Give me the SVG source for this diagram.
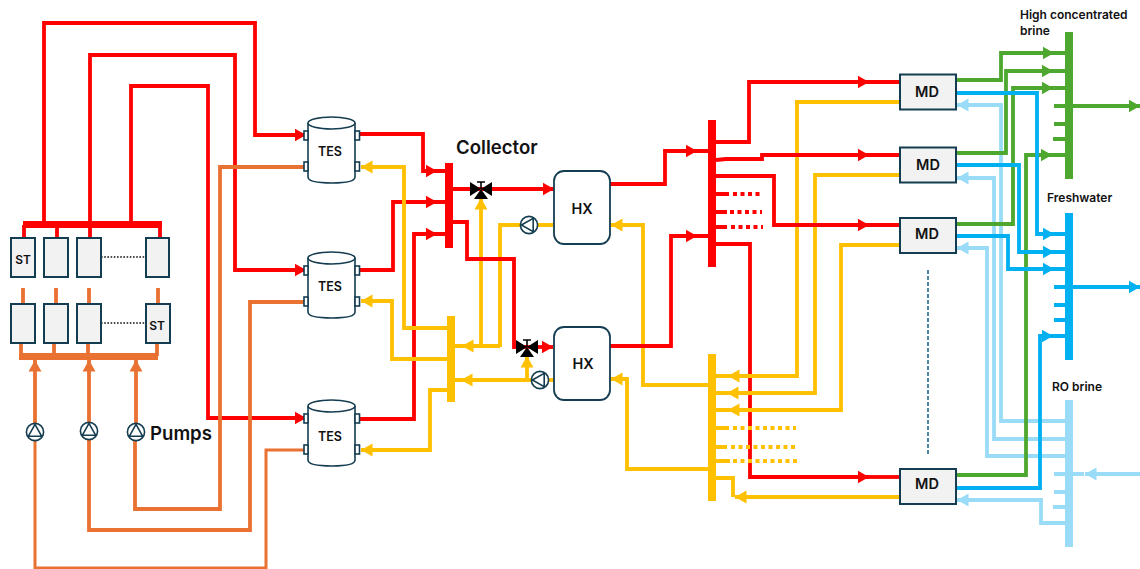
<svg xmlns="http://www.w3.org/2000/svg" width="1140" height="569" viewBox="0 0 1140 569">
<style>
text{font-family:Inter,"Liberation Sans",sans-serif;font-weight:600;fill:#111}
.l{fill:none;stroke-width:3.800;stroke-linejoin:miter}
.r{stroke:#f00}.o{stroke:#e97132}.y{stroke:#ffc000}.g{stroke:#4ea72e}.b{stroke:#00b0f0}.c{stroke:#9adcf7}
.ar{marker-end:url(#ar)}.ao{marker-end:url(#ao)}.ay{marker-end:url(#ay)}.ag{marker-end:url(#ag)}.ab{marker-end:url(#ab)}.ac{marker-end:url(#ac)}
.d{stroke-dasharray:4 3.500}
.n{fill:#f2f2f2;stroke:#153d51;stroke-width:2}
.w{fill:#fff;stroke:#153d51;stroke-width:1.600}
.t{font-size:14.500px}
.s{font-size:12px}
.h{font-size:18.600px}
</style>
<defs>
<marker id="ar" markerUnits="userSpaceOnUse" markerWidth="12" markerHeight="14" refX="11.500" refY="7" orient="auto"><path d="M0 0.500L11.500 7L0 13.500Z" fill="#f00"/></marker>
<marker id="ao" markerUnits="userSpaceOnUse" markerWidth="12" markerHeight="14" refX="11.500" refY="7" orient="auto"><path d="M0 0.500L11.500 7L0 13.500Z" fill="#e97132"/></marker>
<marker id="ay" markerUnits="userSpaceOnUse" markerWidth="12" markerHeight="14" refX="11.500" refY="7" orient="auto"><path d="M0 0.500L11.500 7L0 13.500Z" fill="#ffc000"/></marker>
<marker id="ag" markerUnits="userSpaceOnUse" markerWidth="12" markerHeight="14" refX="11.500" refY="7" orient="auto"><path d="M0 0.500L11.500 7L0 13.500Z" fill="#4ea72e"/></marker>
<marker id="ab" markerUnits="userSpaceOnUse" markerWidth="12" markerHeight="14" refX="11.500" refY="7" orient="auto"><path d="M0 0.500L11.500 7L0 13.500Z" fill="#00b0f0"/></marker>
<marker id="ac" markerUnits="userSpaceOnUse" markerWidth="12" markerHeight="14" refX="11.500" refY="7" orient="auto"><path d="M0 0.500L11.500 7L0 13.500Z" fill="#9adcf7"/></marker>
<g id="valve"><path d="M-11 -7L11 7V-7L-11 7Z" fill="#000"/><path d="M0 0L7 10H-7Z" fill="#000"/><path d="M0 0V-7M-4 -7H4" stroke="#000" stroke-width="1.600" fill="none"/></g>
<g id="pu"><circle r="8.600" class="w"/><path d="M0 -7.600L6.600 4.200H-6.600Z" class="w"/></g>
<g id="pl"><circle r="8.600" class="w"/><path d="M-7.600 0L4.200 -6.600V6.600Z" class="w"/></g>
<g id="tank"><path d="M0 6V60Q0 66 24 66Q47 66 47 60V6" fill="#fff" stroke="#153d51" stroke-width="1.600"/><ellipse cx="23.500" cy="6" rx="23.500" ry="6" fill="#fff" stroke="#153d51" stroke-width="1.600"/></g>
</defs>

<g id="connectors">
<path class="l c ac" d="M1065 421H1001V105H957"/>
<path class="l c ac" d="M1065 439H994V178H957"/>
<path class="l c ac" d="M1065 456H987V248H957"/>
<path class="l c ac" d="M1065 523H1041V500H957"/>
<path class="l c" d="M1054 474H1084M1054 492H1065M1053 507H1065"/>
<path class="l c ac" d="M1140 474H1085"/>
<rect x="1065" y="400" width="8" height="147" fill="#9adcf7"/>
<path class="l g ag" d="M956 80H1001V53H1054"/>
<path class="l g ag" d="M956 153H1006V71H1053"/>
<path class="l g ag" d="M956 224H1013V88H1053"/>
<path class="l g ag" d="M956 475H1026V155H1052"/>
<path class="l g" d="M1054 53H1065M1053 71H1065M1053 88H1065M1052 155H1065M1054 106H1065M1054 124H1065M1053 139H1065"/>
<path class="l g ag" d="M1073 106H1140"/>
<rect x="1065" y="32" width="8" height="147" fill="#4ea72e"/>
<path class="l b ab" d="M956 93H1037V234H1054"/>
<path class="l b ab" d="M956 165H1019V252H1054"/>
<path class="l b ab" d="M956 236H1008V269H1054"/>
<path class="l b ab" d="M956 488H1040V336H1053"/>
<path class="l b" d="M1054 234H1065M1054 252H1065M1054 269H1065M1053 336H1065M1054 287H1065M1054 305H1065M1054 320H1065"/>
<path class="l b ab" d="M1073 287H1140"/>
<rect x="1065" y="213" width="8" height="147" fill="#00b0f0"/>
<path class="l r ar" d="M716 244H750V477H869"/>
<path class="l r" d="M869 477H900"/>
<path class="l r ar" d="M360 419H414V234H437"/>
<path class="l r ar" d="M360 270H393V202H437"/>
<path class="l o" d="M23 288V304M56 288V304M89 288V304M158 288V304M21 343V356M54 343V356M88 343V356M157 343V356"/>
<rect x="19" y="353" width="139" height="7" fill="#e97132"/>
<path class="l r" d="M24 238V225M57 238V225M90 238V225M160 238V225"/>
<rect x="23" y="221" width="139" height="7" fill="#f00"/>
<path class="l r ar" d="M44 222V23H255V135H306"/>
<path class="l r ar" d="M90 222V55H235V270H306"/>
<path class="l r ar" d="M131 222V86H208V418H306"/>
<path class="l o ao" d="M35 423V360"/>
<path class="l o ao" d="M89 422V360"/>
<path class="l o ao" d="M136 423V360"/>
<path class="l o" d="M135 441V509H220V167H306"/>
<path class="l o" d="M89 440V530H250V302H306"/>
<path class="l o" style="stroke-width:3" d="M35 441V568H266V450H306"/>
<path class="l y ay" d="M708 385H643V225H611"/>
<path class="l y ay" d="M708 469H627V379H611"/>
<path class="l y ay" d="M797 102V376H728"/>
<path class="l y" d="M900 102H795"/>
<path class="l y ay" d="M900 175H815V393H727"/>
<path class="l y ay" d="M900 245H841V410H728"/>
<path class="l y ay" d="M900 497H735"/>
<path class="l y" d="M716 376H728M716 393H727M716 410H728M716 428H729M716 447H727M716 461H730M716 478H733V497"/>
<path class="l y d" d="M733 428H796M731 447H797M733 461H797"/>
<rect x="708" y="354" width="8" height="147" fill="#ffc000"/>
<path class="l y ay" d="M447 328H404V167H361"/>
<path class="l y ay" d="M447 359H392V301H361"/>
<path class="l y ay" d="M447 390H430V450H361"/>
<path class="l y ay" d="M481 346V198"/>
<path class="l y ay" d="M500 346H462"/>
<path class="l y" d="M553 225H500V347M455 346H462M455 380H462"/>
<path class="l y ay" d="M549 380H461"/>
<path class="l y ay" d="M527 380V356"/>
<path class="l y" d="M549 380H554"/>
<rect x="447" y="316" width="8" height="86" fill="#ffc000"/>
<path class="l r ar" d="M360 134H423V171H437"/>
<path class="l r" d="M437 171H445M437 202H445M437 234H445"/>
<path class="l r ar" d="M453 189H554"/>
<path class="l r" d="M453 222H467V259H514V347H527"/>
<path class="l r ar" d="M527 347H553"/>
<rect x="445" y="163" width="8" height="85" fill="#f00"/>
<path class="l r ar" d="M610 184H665V151H697"/>
<path class="l r ar" d="M610 346H671V236H697"/>
<path class="l r" d="M697 151H708M697 236H708"/>
<path class="l r ar" d="M716 142H749V82H869"/>
<path class="l r ar" d="M716 160L726 159H762V155H869"/>
<path class="l r ar" d="M716 176H774V225H869"/>
<path class="l r" d="M869 82H900M869 155H900M869 225H900M716 194H729M716 212H727M716 227H727"/>
<path class="l r d" d="M733 194H760M730 212H762M731 227H763"/>
<rect x="708" y="120" width="8" height="147" fill="#f00"/>
<path d="M928 270V455" fill="none" stroke="#156082" stroke-width="1.500" stroke-dasharray="4 2"/>
<path d="M101 257H146M101 323H146" fill="none" stroke="#111" stroke-width="1.400" stroke-dasharray="1.600 1.600"/>
</g>

<g id="st1"><rect class="n" x="11" y="238" width="24" height="39"/><text style="font-size:12px" x="23" y="264" text-anchor="middle">ST</text></g>
<g id="st2"><rect class="n" x="44" y="238" width="24" height="39"/></g>
<g id="st3"><rect class="n" x="77" y="238" width="24" height="39"/></g>
<g id="st4"><rect class="n" x="146" y="238" width="23" height="39"/></g>
<g id="st5"><rect class="n" x="11" y="304" width="24" height="39"/></g>
<g id="st6"><rect class="n" x="44" y="304" width="24" height="39"/></g>
<g id="st7"><rect class="n" x="77" y="304" width="24" height="39"/></g>
<g id="st8"><rect class="n" x="146" y="304" width="24" height="39"/><text style="font-size:12px" x="157" y="330" text-anchor="middle">ST</text></g>

<g id="pump1"><use href="#pu" x="35" y="432"/></g>
<g id="pump2"><use href="#pu" x="89" y="431"/></g>
<g id="pump3"><use href="#pu" x="136" y="432"/></g>
<text class="h" x="150" y="440">Pumps</text>

<g id="tes1"><use href="#tank" x="308" y="117"/><rect class="w" x="304" y="131" width="4" height="9"/><rect class="w" x="304" y="162" width="4" height="9"/><rect class="w" x="355" y="131" width="4.500" height="9"/><rect class="w" x="355" y="162" width="4.500" height="9"/><text style="font-size:12.500px" x="330" y="156" text-anchor="middle">TES</text></g>
<g id="tes2"><use href="#tank" x="308" y="252"/><rect class="w" x="304" y="266" width="4" height="9"/><rect class="w" x="304" y="297" width="4" height="9"/><rect class="w" x="355" y="266" width="4.500" height="9"/><rect class="w" x="355" y="297" width="4.500" height="9"/><text style="font-size:12.500px" x="330" y="291" text-anchor="middle">TES</text></g>
<g id="tes3"><use href="#tank" x="308" y="400"/><rect class="w" x="304" y="414" width="4" height="9"/><rect class="w" x="304" y="445" width="4" height="9"/><rect class="w" x="355" y="414" width="4.500" height="9"/><rect class="w" x="355" y="445" width="4.500" height="9"/><text style="font-size:12.500px" x="330" y="441" text-anchor="middle">TES</text></g>

<text class="h" x="456" y="154">Collector</text>
<g id="valve1"><use href="#valve" x="481" y="189"/></g>
<g id="valve2"><use href="#valve" x="527" y="347"/></g>
<g id="pump4"><use href="#pl" x="529" y="225"/></g>
<g id="pump5"><use href="#pl" x="540" y="380"/></g>

<g id="hx1"><rect x="554" y="171" width="56" height="73" rx="10" fill="#fff" stroke="#153d51" stroke-width="1.800"/><text class="t" x="582" y="214" text-anchor="middle">HX</text></g>
<g id="hx2"><rect x="554" y="327" width="56" height="73" rx="10" fill="#fff" stroke="#153d51" stroke-width="1.800"/><text class="t" x="583" y="369" text-anchor="middle">HX</text></g>

<g id="md1"><rect class="n" x="900" y="74.500" width="56" height="35"/><text class="t" x="927" y="97" text-anchor="middle">MD</text></g>
<g id="md2"><rect class="n" x="900" y="147.500" width="56" height="35"/><text class="t" x="928" y="170" text-anchor="middle">MD</text></g>
<g id="md3"><rect class="n" x="900" y="218" width="56" height="35"/><text class="t" x="927" y="239" text-anchor="middle">MD</text></g>
<g id="md4"><rect class="n" x="900" y="469" width="56" height="35"/><text class="t" x="927" y="489" text-anchor="middle">MD</text></g>

<text class="s" x="1020" y="19">High concentrated</text>
<text class="s" x="1020" y="35">brine</text>
<text class="s" x="1047" y="202">Freshwater</text>
<text class="s" x="1052" y="391">RO brine</text>
</svg>
